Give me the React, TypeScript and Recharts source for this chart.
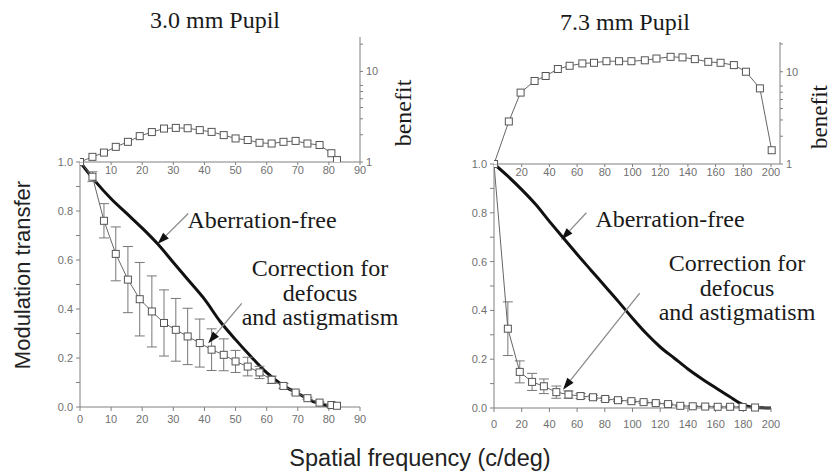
import { ComposedChart, Line, XAxis, YAxis, ErrorBar, ReferenceLine } from 'recharts'

// ---- 3.0 mm pupil ----
const leftIdealFreq = [0, 5, 10, 15, 20, 25, 30, 35, 40, 45, 50, 55, 60, 65, 70, 75, 80]
const leftIdealMtf = [1.0, 0.92, 0.85, 0.79, 0.73, 0.665, 0.59, 0.515, 0.44, 0.35, 0.275, 0.205, 0.14, 0.09, 0.056, 0.022, 0.003]

const leftFreq = [0, 4, 7.7, 11.5, 15.4, 19.2, 23.1, 27, 30.8, 34.6, 38.5, 42.3, 46.2, 50, 53.9, 57.7, 61.6, 65.4, 69.3, 73.1, 77, 80.8, 82.6]
const leftMtf = [1.0, 0.94, 0.76, 0.625, 0.52, 0.44, 0.39, 0.343, 0.315, 0.288, 0.261, 0.234, 0.213, 0.186, 0.165, 0.141, 0.111, 0.086, 0.059, 0.036, 0.018, 0.008, 0.005]
const leftSd = [0, 0.02, 0.07, 0.11, 0.135, 0.15, 0.145, 0.135, 0.128, 0.115, 0.098, 0.085, 0.065, 0.045, 0.038, 0.025, 0.015, 0.01, 0.006, 0.004, 0.003, 0.002, 0]
const leftBenefit = [1.0, 1.14, 1.27, 1.47, 1.67, 1.93, 2.14, 2.34, 2.38, 2.36, 2.25, 2.15, 1.98, 1.82, 1.75, 1.63, 1.6, 1.67, 1.71, 1.6, 1.54, 1.25, 1.05]

// ---- 7.3 mm pupil ----
const rightIdealFreq = [0, 10, 20, 30, 40, 50, 60, 70, 80, 90, 100, 110, 120, 130, 140, 150, 160, 170, 180, 190, 200]
const rightIdealMtf = [1.0, 0.95, 0.895, 0.835, 0.765, 0.697, 0.63, 0.565, 0.5, 0.435, 0.368, 0.305, 0.25, 0.205, 0.16, 0.12, 0.083, 0.047, 0.013, 0.002, 0]

const rightFreq = [0, 10, 18.6, 27.5, 36, 45, 53.8, 62.5, 71.5, 80.3, 89.5, 99.2, 108, 116.8, 125.7, 134.5, 143.5, 152.5, 161.5, 170.5, 179.5, 188.5]
const rightMtf = [1.0, 0.325, 0.148, 0.107, 0.089, 0.065, 0.055, 0.049, 0.044, 0.037, 0.032, 0.028, 0.024, 0.02, 0.016, 0.009, 0.007, 0.006, 0.005, 0.005, 0.004, 0.002]
const rightSd = [0, 0.11, 0.045, 0.035, 0.03, 0.025, 0.015, 0.01, 0.008, 0.007, 0.006, 0.005, 0.005, 0.004, 0.004, 0.003, 0.003, 0.003, 0.003, 0.003, 0.002, 0.002]

const rightBenefitFreq = [0, 10.7, 19.2, 29.3, 37.3, 46.1, 54.6, 63.8, 72.2, 81.2, 90.3, 99.2, 108.9, 117.3, 127.5, 136.1, 145, 154.7, 163.6, 173.2, 181.9, 192, 200.5]
const rightBenefit = [1.0, 2.89, 5.94, 7.94, 8.99, 10.7, 11.6, 12.3, 12.5, 13.0, 13.0, 13.0, 13.3, 13.9, 14.5, 14.3, 13.7, 12.8, 12.5, 11.8, 10.0, 6.6, 1.41]

// ticks
const leftXTicks = [0, 10, 20, 30, 40, 50, 60, 70, 80, 90]
const leftInsetTicks = [10, 20, 30, 40, 50, 60, 70, 80, 90]
const rightXTicks = [0, 20, 40, 60, 80, 100, 120, 140, 160, 180, 200]
const rightInsetTicks = [20, 40, 60, 80, 100, 120, 140, 160, 180, 200]
const mtfTicks = [0, 0.1, 0.2, 0.3, 0.4, 0.5, 0.6, 0.7, 0.8, 0.9, 1.0]
const benefitTicks = [1, 2, 3, 4, 5, 6, 7, 8, 9, 10, 20]

// arrows: [from x, from y, to x, to y]
const leftIdealArrow = [34.8, 0.79, 24.9, 0.665]
const leftCorrArrow = [52, 0.423, 41.2, 0.26]
const rightIdealArrow = [66.7, 0.8, 48.6, 0.69]
const rightCorrArrow = [105.2, 0.471, 49.8, 0.075]

const zip = (xs: number[], ys: number[], sd?: number[]) =>
  xs.map((x, i) => ({ x, y: ys[i], sd: sd ? sd[i] : 0 }))

const SANS = '"Liberation Sans", Arial, sans-serif'
const SERIF = '"Liberation Serif", "Times New Roman", serif'
const AXIS = '#808080'
const tickStyle = { fill: '#707070', fontSize: 11, fontFamily: SANS }

function Square(props: any) {
  const { cx, cy } = props
  if (cx == null || cy == null) return null
  return <rect x={cx - 3.5} y={cy - 3.5} width={7} height={7} fill="#fff" stroke="#555" strokeWidth={1} />
}

function Arrow(props: any) {
  const { x1, y1, x2, y2 } = props
  const ang = Math.atan2(y2 - y1, x2 - x1)
  const len = 12
  const half = 4
  const bx = x2 - len * Math.cos(ang)
  const by = y2 - len * Math.sin(ang)
  const px = -Math.sin(ang) * half
  const py = Math.cos(ang) * half
  return (
    <g>
      <line x1={x1} y1={y1} x2={bx} y2={by} stroke="#8a8a8a" strokeWidth={1.3} />
      <polygon points={`${x2},${y2} ${bx + px},${by + py} ${bx - px},${by - py}`} fill="#111" />
    </g>
  )
}

const mtfFormat = (v: number) => (Math.round(v * 10) % 2 === 0 ? v.toFixed(1) : '')
const benefitFormat = (v: number) => (v === 1 || v === 10 ? String(v) : '')

function arrowLine(a: number[], key: string) {
  return (
    <ReferenceLine
      key={key}
      segment={[{ x: a[0], y: a[1] }, { x: a[2], y: a[3] }]}
      ifOverflow="visible"
      shape={Arrow}
    />
  )
}

function MainPanel(props: {
  left: number; top: number; width: number; height: number
  xMax: number; xTicks: number[]; tickMargin: number
  ideal: { x: number; y: number }[]; corrected: { x: number; y: number; sd: number }[]
  arrows: number[][]
}) {
  const { left, top, width, height, xMax, xTicks, tickMargin, ideal, corrected, arrows } = props
  return (
    <div style={{ position: 'absolute', left, top }}>
      <ComposedChart width={width} height={height} margin={{ top: 12, right: 10, bottom: 0, left: 0 }}>
        <XAxis
          type="number" dataKey="x" domain={[0, xMax]} ticks={xTicks} height={30}
          tick={tickStyle} tickSize={4} tickMargin={tickMargin}
          axisLine={{ stroke: AXIS }} tickLine={{ stroke: AXIS }} allowDataOverflow
        />
        <YAxis
          type="number" domain={[0, 1]} ticks={mtfTicks} width={40} tickFormatter={mtfFormat}
          tick={tickStyle} tickSize={4} tickMargin={3}
          axisLine={{ stroke: AXIS }} tickLine={{ stroke: AXIS }}
        />
        <Line data={ideal} dataKey="y" type="monotone" stroke="#111" strokeWidth={3} dot={false} isAnimationActive={false} />
        <Line data={corrected} dataKey="y" type="linear" stroke="#666" strokeWidth={1} dot={<Square />} isAnimationActive={false}>
          <ErrorBar dataKey="sd" width={5} stroke="#777" strokeWidth={1} direction="y" />
        </Line>
        {arrows.map((a, i) => arrowLine(a, 'a' + i))}
      </ComposedChart>
    </div>
  )
}

function InsetPanel(props: {
  left: number; top: number; width: number; height: number; marginTop: number
  xMax: number; yMax: number; xTicks: number[]; data: { x: number; y: number }[]
}) {
  const { left, top, width, height, marginTop, xMax, yMax, xTicks, data } = props
  return (
    <div style={{ position: 'absolute', left, top }}>
      <ComposedChart width={width} height={height} margin={{ top: marginTop, right: 0, bottom: 0, left: 0 }}>
        <XAxis
          type="number" dataKey="x" domain={[0, xMax]} ticks={xTicks} height={20}
          tick={tickStyle} tickSize={3} tickMargin={1}
          axisLine={{ stroke: AXIS }} tickLine={{ stroke: AXIS }}
        />
        <YAxis
          orientation="right" type="number" scale="log" domain={[1, yMax]} allowDataOverflow
          ticks={benefitTicks} tickFormatter={benefitFormat} width={40}
          tick={tickStyle} tickSize={3} tickMargin={3}
          axisLine={{ stroke: AXIS }} tickLine={{ stroke: AXIS }}
        />
        <Line data={data} dataKey="y" type="linear" stroke="#666" strokeWidth={1} dot={<Square />} isAnimationActive={false} />
      </ComposedChart>
    </div>
  )
}

const abs = (left: number, top: number, extra: any = {}) => ({ position: 'absolute' as const, left, top, ...extra })

export default function App() {
  const serifText = { fontFamily: SERIF, fontSize: 24, color: '#1a1a1a', whiteSpace: 'nowrap' as const }
  return (
    <div style={{ position: 'absolute', left: 0, top: 0, width: 834, height: 476, background: '#fff', overflow: 'hidden' }}>
      <MainPanel
        left={40} top={150} width={330} height={287} xMax={90} xTicks={leftXTicks} tickMargin={4}
        ideal={zip(leftIdealFreq, leftIdealMtf)} corrected={zip(leftFreq, leftMtf, leftSd)}
        arrows={[leftIdealArrow, leftCorrArrow]}
      />
      <InsetPanel
        left={80} top={20} width={320} height={162} marginTop={17} xMax={90} yMax={24}
        xTicks={leftInsetTicks} data={zip(leftFreq, leftBenefit)}
      />
      <MainPanel
        left={454} top={152} width={327} height={286} xMax={200} xTicks={rightXTicks} tickMargin={8}
        ideal={zip(rightIdealFreq, rightIdealMtf)} corrected={zip(rightFreq, rightMtf, rightSd)}
        arrows={[rightIdealArrow, rightCorrArrow]}
      />
      <InsetPanel
        left={494} top={22} width={326} height={162} marginTop={20} xMax={206.5} yMax={21}
        xTicks={rightInsetTicks} data={zip(rightBenefitFreq, rightBenefit)}
      />

      {/* titles */}
      <div style={abs(215, 20, { ...serifText, transform: 'translate(-50%, -50%)' })}>3.0 mm Pupil</div>
      <div style={abs(625, 22, { ...serifText, transform: 'translate(-50%, -50%)' })}>7.3 mm Pupil</div>

      {/* benefit labels */}
      <div style={abs(403, 113, { ...serifText, transform: 'translate(-50%, -50%) rotate(-90deg)' })}>benefit</div>
      <div style={abs(820, 117, { ...serifText, fontSize: 23, transform: 'translate(-50%, -50%) rotate(-90deg)' })}>benefit</div>

      {/* axis titles */}
      <div style={abs(23, 275, { fontFamily: SANS, fontSize: 22, color: '#222', whiteSpace: 'nowrap', transform: 'translate(-50%, -50%) rotate(-90deg)' })}>
        Modulation transfer
      </div>
      <div style={abs(420, 458, { fontFamily: SANS, fontSize: 23.5, color: '#222', whiteSpace: 'nowrap', transform: 'translate(-50%, -50%)' })}>
        Spatial frequency (c/deg)
      </div>

      {/* annotations */}
      <div style={abs(262, 220, { ...serifText, transform: 'translate(-50%, -50%)' })}>Aberration-free</div>
      <div style={abs(320, 256, { ...serifText, lineHeight: '24.5px', textAlign: 'center', transform: 'translateX(-50%)' })}>
        Correction for<br />defocus<br />and astigmatism
      </div>
      <div style={abs(670, 219, { ...serifText, transform: 'translate(-50%, -50%)' })}>Aberration-free</div>
      <div style={abs(737, 251, { ...serifText, lineHeight: '24.5px', textAlign: 'center', transform: 'translateX(-50%)' })}>
        Correction for<br />defocus<br />and astigmatism
      </div>
    </div>
  )
}
